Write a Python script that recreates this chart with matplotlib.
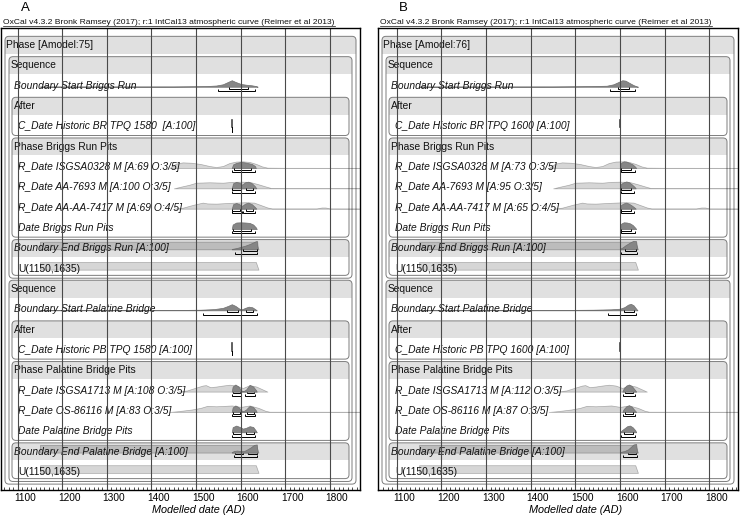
import numpy as np
import matplotlib
matplotlib.use("Agg")
import matplotlib.pyplot as plt
from matplotlib.patches import FancyBboxPatch, Rectangle
from matplotlib.lines import Line2D
import matplotlib.transforms as mtransforms

plt.rcParams['font.family'] = ['Liberation Sans', 'DejaVu Sans']

# ---------------- text ----------------
TITLE = "OxCal v4.3.2 Bronk Ramsey (2017); r:1 IntCal13 atmospheric curve (Reimer et al 2013)"
PANEL_LETTERS = ["A", "B"]
X_TICKS = [1100, 1200, 1300, 1400, 1500, 1600, 1700, 1800]
X_LABEL = "Modelled date (AD)"

LABELS_A = [
    "Phase [Amodel:75]", "Sequence", "Boundary Start Briggs Run", "After",
    "C_Date Historic BR TPQ 1580  [A:100]", "Phase Briggs Run Pits",
    "R_Date ISGSA0328 M [A:69 O:3/5]", "R_Date AA-7693 M [A:100 O:3/5]",
    "R_Date AA-AA-7417 M [A:69 O:4/5]", "Date Briggs Run Pits",
    "Boundary End Briggs Run [A:100]", "U(1150,1635)", "Sequence",
    "Boundary Start Palatine Bridge", "After", "C_Date Historic PB TPQ 1580 [A:100]",
    "Phase Palatine Bridge Pits", "R_Date ISGSA1713 M [A:108 O:3/5]",
    "R_Date OS-86116 M [A:83 O:3/5]", "Date Palatine Bridge Pits",
    "Boundary End Palatine Bridge [A:100]", "U(1150,1635)",
]
LABELS_B = [
    "Phase [Amodel:76]", "Sequence", "Boundary Start Briggs Run", "After",
    "C_Date Historic BR TPQ 1600 [A:100]", "Phase Briggs Run Pits",
    "R_Date ISGSA0328 M [A:73 O:3/5]", "R_Date AA-7693 M [A:95 O:3/5]",
    "R_Date AA-AA-7417 M [A:65 O:4/5]", "Date Briggs Run Pits",
    "Boundary End Briggs Run [A:100]", "U(1150,1635)", "Sequence",
    "Boundary Start Palatine Bridge", "After", "C_Date Historic PB TPQ 1600 [A:100]",
    "Phase Palatine Bridge Pits", "R_Date ISGSA1713 M [A:112 O:3/5]",
    "R_Date OS-86116 M [A:87 O:3/5]", "Date Palatine Bridge Pits",
    "Boundary End Palatine Bridge [A:100]", "U(1150,1635)",
]
ROW_ITALIC = [False, False, True, False, True, False, True, True, True, True, True,
              False, False, True, False, True, False, True, True, True, True, False]
ROW_DEPTH = [0, 1, 2, 2, 3, 2, 3, 3, 3, 3, 2, 3, 1, 2, 2, 3, 2, 3, 3, 3, 2, 3]
# nested boxes: (first row, last row, depth)
BOXES = [(0, 21, 0), (1, 11, 1), (3, 4, 2), (5, 9, 2), (10, 11, 2),
         (12, 21, 1), (14, 15, 2), (16, 19, 2), (20, 21, 2)]

# ---------------- likelihoods (light grey, same in both models) ----------------
U_PRIOR_YR = [1150, 1150, 1634, 1640]
U_PRIOR_H = [0.0, 0.38, 0.38, 0.0]

LIK_ISGSA0328_YR = [1440, 1455, 1470, 1490, 1510, 1530, 1545, 1560, 1575, 1590, 1605, 1620, 1635, 1648, 1660, 1700, 1866]
LIK_ISGSA0328_H = [0.0, 0.22, 0.28, 0.26, 0.2, 0.1, 0.05, 0.1, 0.25, 0.32, 0.33, 0.3, 0.2, 0.08, 0.02, 0.012, 0.01]
LIK_AA7693_YR = [1450, 1465, 1485, 1500, 1530, 1560, 1580, 1600, 1620, 1640, 1655, 1668, 1700, 1866]
LIK_AA7693_H = [0.0, 0.08, 0.18, 0.28, 0.3, 0.28, 0.32, 0.33, 0.32, 0.2, 0.1, 0.02, 0.012, 0.01]
LIK_AA7417_YR = [1450, 1470, 1495, 1515, 1525, 1545, 1570, 1590, 1610, 1630, 1645, 1660, 1670, 1770, 1782, 1790, 1800, 1866]
LIK_AA7417_H = [0.0, 0.05, 0.2, 0.3, 0.26, 0.25, 0.28, 0.3, 0.32, 0.3, 0.18, 0.06, 0.012, 0.012, 0.06, 0.06, 0.012, 0.01]
LIK_ISGSA1713_YR = [1460, 1480, 1500, 1515, 1522, 1532, 1545, 1560, 1575, 1590, 1605, 1620, 1635, 1648, 1660]
LIK_ISGSA1713_H = [0.0, 0.06, 0.2, 0.3, 0.32, 0.22, 0.25, 0.3, 0.34, 0.3, 0.18, 0.32, 0.25, 0.12, 0.0]
LIK_OS86116_YR = [1440, 1460, 1490, 1510, 1525, 1545, 1565, 1580, 1600, 1620, 1640, 1655, 1665, 1700, 1866]
LIK_OS86116_H = [0.0, 0.04, 0.12, 0.2, 0.3, 0.28, 0.3, 0.32, 0.25, 0.32, 0.2, 0.06, 0.012, 0.012, 0.01]

# ---------------- model A posteriors (dark grey) ----------------
A_TPQ = 1580
A_START_BR_YR = [1150, 1450, 1520, 1545, 1560, 1572, 1580, 1588, 1600, 1612, 1625, 1635, 1638]
A_START_BR_H = [0.012, 0.015, 0.03, 0.06, 0.12, 0.24, 0.32, 0.24, 0.14, 0.1, 0.07, 0.03, 0.0]
A_START_BR_R68 = [(1574, 1617)]
A_START_BR_R95 = [(1550, 1631)]
A_ISGSA0328_YR = [1580, 1583, 1590, 1600, 1608, 1615, 1625, 1632, 1634]
A_ISGSA0328_H = [0.0, 0.18, 0.25, 0.3, 0.28, 0.25, 0.2, 0.1, 0.0]
A_ISGSA0328_R68 = [(1584, 1622)]
A_ISGSA0328_R95 = [(1581, 1631)]
A_AA7693_YR = [1580, 1583, 1590, 1597, 1603, 1610, 1617, 1625, 1632, 1635]
A_AA7693_H = [0.0, 0.25, 0.32, 0.28, 0.18, 0.3, 0.33, 0.25, 0.1, 0.0]
A_AA7693_R68 = [(1581, 1600), (1612, 1628)]
A_AA7693_R95 = [(1581, 1631)]
A_AA7417_YR = [1580, 1583, 1590, 1597, 1603, 1610, 1617, 1625, 1632, 1635]
A_AA7417_H = [0.0, 0.22, 0.28, 0.22, 0.14, 0.25, 0.3, 0.22, 0.08, 0.0]
A_AA7417_R68 = [(1581, 1598), (1611, 1627)]
A_AA7417_R95 = [(1580, 1602), (1606, 1631)]
A_DATE_BR_YR = [1580, 1582, 1590, 1600, 1610, 1620, 1628, 1634, 1636]
A_DATE_BR_H = [0.0, 0.22, 0.32, 0.33, 0.32, 0.3, 0.22, 0.08, 0.0]
A_DATE_BR_R68 = [(1583, 1622)]
A_DATE_BR_R95 = [(1581, 1631)]
A_END_BR_YR = [1580, 1590, 1600, 1610, 1620, 1628, 1634, 1637, 1638]
A_END_BR_H = [0.02, 0.06, 0.12, 0.18, 0.26, 0.34, 0.4, 0.4, 0.0]
A_END_BR_R68 = [(1606, 1636)]
A_END_BR_R95 = [(1588, 1637)]
A_START_PB_YR = [1150, 1450, 1510, 1540, 1560, 1572, 1580, 1588, 1597, 1603, 1610, 1618, 1626, 1633, 1636]
A_START_PB_H = [0.012, 0.015, 0.03, 0.06, 0.12, 0.22, 0.3, 0.22, 0.08, 0.05, 0.12, 0.18, 0.15, 0.05, 0.0]
A_START_PB_R68 = [(1570, 1594), (1612, 1628)]
A_START_PB_R95 = [(1516, 1637)]
A_ISGSA1713_YR = [1580, 1582, 1588, 1595, 1601, 1606, 1612, 1620, 1628, 1634, 1636]
A_ISGSA1713_H = [0.0, 0.25, 0.35, 0.25, 0.06, 0.02, 0.1, 0.33, 0.25, 0.08, 0.0]
A_ISGSA1713_R68 = [(1582, 1598), (1614, 1630)]
A_ISGSA1713_R95 = [(1580, 1601), (1609, 1633)]
A_OS86116_YR = [1580, 1582, 1588, 1595, 1601, 1606, 1612, 1620, 1628, 1634, 1636]
A_OS86116_H = [0.0, 0.22, 0.32, 0.24, 0.08, 0.04, 0.12, 0.3, 0.24, 0.08, 0.0]
A_OS86116_R68 = [(1582, 1598), (1614, 1630)]
A_OS86116_R95 = [(1580, 1601), (1609, 1633)]
A_DATE_PB_YR = [1580, 1582, 1590, 1598, 1605, 1612, 1620, 1628, 1634, 1636]
A_DATE_PB_H = [0.0, 0.25, 0.33, 0.26, 0.18, 0.22, 0.3, 0.26, 0.08, 0.0]
A_DATE_PB_R68 = [(1582, 1600), (1613, 1630)]
A_DATE_PB_R95 = [(1580, 1633)]
A_END_PB_YR = [1580, 1585, 1592, 1600, 1608, 1615, 1622, 1630, 1636, 1638]
A_END_PB_H = [0.02, 0.08, 0.1, 0.07, 0.08, 0.16, 0.25, 0.38, 0.4, 0.0]
A_END_PB_R68 = [(1588, 1606), (1617, 1637)]
A_END_PB_R95 = [(1584, 1637)]

# ---------------- model B posteriors (dark grey) ----------------
B_TPQ = 1600
B_START_BR_YR = [1150, 1450, 1530, 1570, 1585, 1595, 1605, 1612, 1620, 1630, 1637, 1640]
B_START_BR_H = [0.012, 0.015, 0.03, 0.05, 0.12, 0.22, 0.32, 0.3, 0.2, 0.08, 0.02, 0.0]
B_START_BR_R68 = [(1595, 1620)]
B_START_BR_R95 = [(1578, 1634)]
B_ISGSA0328_YR = [1600, 1602, 1608, 1614, 1620, 1628, 1634, 1636]
B_ISGSA0328_H = [0.0, 0.25, 0.33, 0.32, 0.26, 0.18, 0.06, 0.0]
B_ISGSA0328_R68 = [(1602, 1625)]
B_ISGSA0328_R95 = [(1601, 1633)]
B_AA7693_YR = [1600, 1602, 1608, 1614, 1620, 1626, 1632, 1635]
B_AA7693_H = [0.0, 0.22, 0.3, 0.34, 0.3, 0.2, 0.08, 0.0]
B_AA7693_R68 = [(1602, 1624)]
B_AA7693_R95 = [(1601, 1632)]
B_AA7417_YR = [1600, 1602, 1608, 1614, 1620, 1626, 1632, 1635]
B_AA7417_H = [0.0, 0.18, 0.26, 0.3, 0.24, 0.16, 0.06, 0.0]
B_AA7417_R68 = [(1602, 1624)]
B_AA7417_R95 = [(1601, 1632)]
B_DATE_BR_YR = [1600, 1602, 1608, 1615, 1622, 1628, 1634, 1636]
B_DATE_BR_H = [0.0, 0.26, 0.33, 0.32, 0.28, 0.2, 0.06, 0.0]
B_DATE_BR_R68 = [(1602, 1624)]
B_DATE_BR_R95 = [(1601, 1633)]
B_END_BR_YR = [1600, 1606, 1612, 1618, 1624, 1630, 1636, 1638]
B_END_BR_H = [0.03, 0.1, 0.2, 0.28, 0.36, 0.42, 0.4, 0.0]
B_END_BR_R68 = [(1612, 1636)]
B_END_BR_R95 = [(1603, 1637)]
B_START_PB_YR = [1150, 1450, 1540, 1580, 1600, 1610, 1618, 1624, 1630, 1636, 1639]
B_START_PB_H = [0.012, 0.015, 0.03, 0.05, 0.08, 0.16, 0.28, 0.32, 0.25, 0.08, 0.0]
B_START_PB_R68 = [(1608, 1632)]
B_START_PB_R95 = [(1573, 1636)]
B_ISGSA1713_YR = [1605, 1608, 1614, 1620, 1626, 1632, 1636]
B_ISGSA1713_H = [0.0, 0.15, 0.3, 0.35, 0.28, 0.12, 0.0]
B_ISGSA1713_R68 = [(1612, 1630)]
B_ISGSA1713_R95 = [(1606, 1634)]
B_OS86116_YR = [1605, 1608, 1614, 1620, 1626, 1632, 1636]
B_OS86116_H = [0.0, 0.14, 0.28, 0.33, 0.26, 0.1, 0.0]
B_OS86116_R68 = [(1612, 1630)]
B_OS86116_R95 = [(1606, 1634)]
B_DATE_PB_YR = [1600, 1604, 1610, 1616, 1622, 1628, 1634, 1636]
B_DATE_PB_H = [0.0, 0.1, 0.2, 0.3, 0.33, 0.25, 0.1, 0.0]
B_DATE_PB_R68 = [(1608, 1630)]
B_DATE_PB_R95 = [(1601, 1634)]
B_END_PB_YR = [1600, 1610, 1618, 1624, 1630, 1636, 1638]
B_END_PB_H = [0.03, 0.08, 0.16, 0.28, 0.4, 0.42, 0.0]
B_END_PB_R68 = [(1618, 1636)]
B_END_PB_R95 = [(1606, 1637)]

# ---------------- styling ----------------
FIG_W, FIG_H = 740, 518
HEADER_COL = "#e0e0e0"
LIGHT_FC = (0, 0, 0, 0.16)
LIGHT_EC = (0, 0, 0, 0.28)
DARK_FC = "#868686"
DARK_EC = "#6e6e6e"
BOX_EC = "#7d7d7d"
GRID_COL = "#4a4a4a"
TEXT_FS = 7.4


def build_rows(p):
    g = globals()
    rows = {}
    def dark(key):
        return (g[f"{p}_{key}_YR"], g[f"{p}_{key}_H"], g[f"{p}_{key}_R68"], g[f"{p}_{key}_R95"])
    rows[2] = (None, dark("START_BR"))
    rows[6] = ((LIK_ISGSA0328_YR, LIK_ISGSA0328_H), dark("ISGSA0328"))
    rows[7] = ((LIK_AA7693_YR, LIK_AA7693_H), dark("AA7693"))
    rows[8] = ((LIK_AA7417_YR, LIK_AA7417_H), dark("AA7417"))
    rows[9] = (None, dark("DATE_BR"))
    rows[10] = ((U_PRIOR_YR, U_PRIOR_H), dark("END_BR"))
    rows[11] = ((U_PRIOR_YR, U_PRIOR_H), None)
    rows[13] = (None, dark("START_PB"))
    rows[17] = ((LIK_ISGSA1713_YR, LIK_ISGSA1713_H), dark("ISGSA1713"))
    rows[18] = ((LIK_OS86116_YR, LIK_OS86116_H), dark("OS86116"))
    rows[19] = (None, dark("DATE_PB"))
    rows[20] = ((U_PRIOR_YR, U_PRIOR_H), dark("END_PB"))
    rows[21] = ((U_PRIOR_YR, U_PRIOR_H), None)
    return rows


def draw_ranges(ax, c, segs, yoff):
    y = c + yoff
    for a, b in segs:
        ax.plot([a, a, b, b], [y - 0.09, y, y, y - 0.09], color="black", lw=0.7,
                zorder=5, solid_capstyle="butt", solid_joinstyle="miter")


fig = plt.figure(figsize=(FIG_W / 100, FIG_H / 100), dpi=100)

panels = [
    dict(p="A", labels=LABELS_A, tpq=A_TPQ, left=1, width=359, xlim=(1062.6, 1867.5), letter_x=25),
    dict(p="B", labels=LABELS_B, tpq=B_TPQ, left=378, width=360, xlim=(1058.0, 1864.0), letter_x=403),
]
AX_TOP, AX_BOT = 28, 490
YLIM = (21.89, -0.84)

for pi, P in enumerate(panels):
    ax = fig.add_axes([P["left"] / FIG_W, (FIG_H - AX_BOT) / FIG_H,
                       P["width"] / FIG_W, (AX_BOT - AX_TOP) / FIG_H])
    x0l, x1l = P["xlim"]
    ax.set_xlim(x0l, x1l)
    ax.set_ylim(*YLIM)
    ypp = (x1l - x0l) / P["width"]           # years per pixel
    rpp = (YLIM[0] - YLIM[1]) / (AX_BOT - AX_TOP)  # rows per pixel
    asp = rpp / ypp

    def px(v):
        return x0l + v * ypp

    # boxes
    for (r0, r1, d) in BOXES:
        inset = [4, 8, 11][d]
        bx0, bx1 = px(inset), px(P["width"] - inset)
        top = r0 - 0.43
        if d == 2 and any(b[2] == 1 and b[1] == r1 for b in BOXES):
            pad = 0.33
        else:
            pad = {0: 0.6, 1: 0.47, 2: 0.45}[d]
        bottom = r1 + pad
        rs = 4 * ypp
        style = f"round,pad=0,rounding_size={rs}"
        face = FancyBboxPatch((bx0, top), bx1 - bx0, bottom - top, boxstyle=style,
                              mutation_aspect=asp, fc="white", ec="none", zorder=1 + 0.1 * d)
        ax.add_patch(face)
        band = Rectangle((bx0, top), bx1 - bx0, (r0 + 0.42) - top, fc=HEADER_COL,
                         ec="none", zorder=1.05 + 0.1 * d)
        ax.add_patch(band)
        band.set_clip_path(face)
        edge = FancyBboxPatch((bx0, top), bx1 - bx0, bottom - top, boxstyle=style,
                              mutation_aspect=asp, fc="none", ec=BOX_EC, lw=0.7, zorder=2.6)
        ax.add_patch(edge)

    # labels
    for k, lab in enumerate(P["labels"]):
        ax.text(px([5, 10, 13, 17][ROW_DEPTH[k]]), k, lab, fontsize=TEXT_FS,
                style="italic" if ROW_ITALIC[k] else "normal", va="center", ha="left",
                color="#111111", zorder=6)

    # distributions
    rows = build_rows(P["p"])
    for k, (light, dark) in rows.items():
        base = k + 0.05
        if light is not None:
            yr, h = light
            ax.fill_between(yr, base, base - np.asarray(h), fc=LIGHT_FC, ec=LIGHT_EC,
                            lw=0.5, zorder=3)
        if dark is not None:
            yr, h, r68, r95 = dark
            ax.fill_between(yr, base, base - np.asarray(h), fc=DARK_FC, ec=DARK_EC,
                            lw=0.5, zorder=4)
            draw_ranges(ax, k, r68, 0.14)
            draw_ranges(ax, k, r95, 0.26)

    # C_Date TPQ markers
    for k in (4, 15):
        ax.plot([P["tpq"], P["tpq"]], [k - 0.32, k + 0.05], color="#444444", lw=1.2, zorder=5)
        draw_ranges(ax, k, [(P["tpq"], P["tpq"])], 0.14)
        draw_ranges(ax, k, [(P["tpq"], P["tpq"])], 0.26)

    # vertical gridlines over everything
    for t in X_TICKS:
        ax.axvline(t, color=GRID_COL, lw=0.8, zorder=8)

    # axes
    ax.set_yticks([])
    ax.set_xticks(X_TICKS)
    ax.set_xticklabels([str(t) for t in X_TICKS])
    ax.set_xticks(np.arange(X_TICKS[0] - 30, X_TICKS[-1] + 61, 10), minor=True)
    ax.tick_params(axis="x", which="major", direction="in", length=4, width=0.7,
                   pad=2.5, labelsize=7.3)
    ax.tick_params(axis="x", which="minor", direction="in", length=2, width=0.5)
    for sp in ax.spines.values():
        sp.set_linewidth(1.0)
        sp.set_zorder(9)
    off = mtransforms.ScaledTranslation(7 / 100, 0, fig.dpi_scale_trans)
    for lbl in ax.get_xticklabels():
        lbl.set_transform(lbl.get_transform() + off)
    ax.set_xlabel(X_LABEL, fontsize=7.8, style="italic")
    ax.xaxis.set_label_coords(0.55, -0.033)
    ax.xaxis.label.set_va("top")

    # panel letter and OxCal header
    fig.text(P["letter_x"] / FIG_W, 1 - 11 / FIG_H, PANEL_LETTERS[pi], fontsize=9.5,
             ha="center", va="baseline")
    P["title"] = fig.text((P["left"] + 2) / FIG_W, 1 - 24.5 / FIG_H, TITLE, fontsize=6.1,
                          ha="left", va="baseline", color="#111111")

fig.canvas.draw()
inv = fig.transFigure.inverted()
for P in panels:
    bb = P["title"].get_window_extent()
    (xa, ya), (xb, _) = inv.transform([(bb.x0, bb.y0 + 0.3), (bb.x1, bb.y0)])
    fig.add_artist(Line2D([xa, xb], [ya, ya], transform=fig.transFigure,
                          color="#111111", lw=0.5))

fig.savefig("out.png", dpi=100)
